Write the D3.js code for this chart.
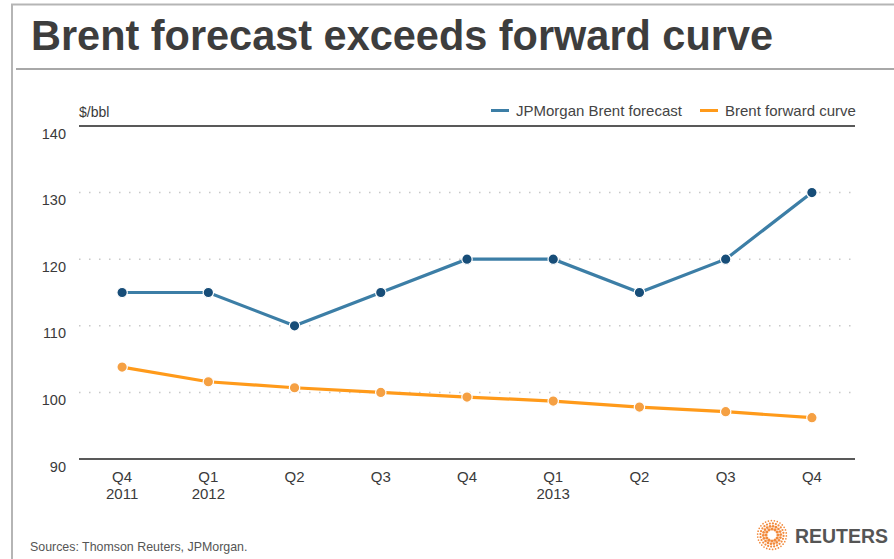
<!DOCTYPE html>
<html>
<head>
<meta charset="utf-8">
<script src="https://cdn.jsdelivr.net/npm/d3@7"></script>
<style>
  body { margin: 0; background: #fff; }
  svg { display: block; font-family: "Liberation Sans", Arial, sans-serif; }
</style>
</head>
<body>
<svg id="chart" width="894" height="559"></svg>
<script>
var quarters = ["Q4", "Q1", "Q2", "Q3", "Q4", "Q1", "Q2", "Q3", "Q4"];
var years = ["2011", "2012", "", "", "", "2013", "", "", ""];
var jpmForecast = [115, 115, 110, 115, 120, 120, 115, 120, 130];
var forwardCurve = [103.8, 101.6, 100.7, 100.0, 99.3, 98.7, 97.8, 97.1, 96.2];
var yTicks = [90, 100, 110, 120, 130, 140];

var svg = d3.select("#chart");
var margin = { left: 79, right: 855, top: 126, bottom: 459 };

// frame
svg.append("path")
    .attr("d", "M12,559 V4.5 H894")
    .attr("fill", "none")
    .attr("stroke", "#b5b5b5")
    .attr("stroke-width", 2);
svg.append("line")
    .attr("x1", 16).attr("x2", 894).attr("y1", 69).attr("y2", 69)
    .attr("stroke", "#a8a8a8").attr("stroke-width", 2);

svg.append("text")
    .attr("x", 31).attr("y", 50)
    .style("font-weight", "bold")
    .style("font-size", "42px")
    .attr("fill", "#3d3d3d")
    .attr("textLength", 742)
    .attr("lengthAdjust", "spacingAndGlyphs")
    .text("Brent forecast exceeds forward curve");

var x = d3.scalePoint()
    .domain(d3.range(quarters.length))
    .range([margin.left, margin.right])
    .padding(0.5);

var y = d3.scaleLinear()
    .domain([90, 140])
    .range([margin.bottom, margin.top]);

// grid
svg.selectAll(".grid")
    .data(yTicks.filter(function(d) { return d > 90 && d < 140; }))
    .enter().append("line")
    .attr("x1", margin.left).attr("x2", margin.right)
    .attr("y1", function(d) { return y(d); })
    .attr("y2", function(d) { return y(d); })
    .attr("stroke", "#c8c8c8")
    .attr("stroke-width", 1.5)
    .attr("stroke-dasharray", "1.5,8.5");

svg.selectAll(".edge")
    .data([90, 140])
    .enter().append("line")
    .attr("x1", margin.left).attr("x2", margin.right)
    .attr("y1", function(d) { return y(d); })
    .attr("y2", function(d) { return y(d); })
    .attr("stroke", "#222")
    .attr("stroke-width", 1.6);

// y labels
svg.selectAll(".ylab")
    .data(yTicks)
    .enter().append("text")
    .attr("x", 66)
    .attr("y", function(d) { return y(d) + 12.5; })
    .attr("text-anchor", "end")
    .style("font-size", "14.5px")
    .attr("fill", "#3a3a3a")
    .text(function(d) { return d; });

svg.append("text")
    .attr("x", 79).attr("y", 117)
    .style("font-size", "14px")
    .attr("fill", "#3a3a3a")
    .text("$/bbl");

// x labels
svg.selectAll(".xlab")
    .data(quarters)
    .enter().append("text")
    .attr("x", function(d, i) { return x(i); })
    .attr("y", 482)
    .attr("text-anchor", "middle")
    .style("font-size", "15px")
    .attr("fill", "#3a3a3a")
    .text(function(d) { return d; });
svg.selectAll(".yrlab")
    .data(years)
    .enter().append("text")
    .attr("x", function(d, i) { return x(i); })
    .attr("y", 499)
    .attr("text-anchor", "middle")
    .style("font-size", "15px")
    .attr("fill", "#3a3a3a")
    .text(function(d) { return d; });

var line = d3.line()
    .x(function(d, i) { return x(i); })
    .y(function(d) { return y(d); });

var series = [
  { name: "JPMorgan Brent forecast", values: jpmForecast, line: "#3c7ea6", dot: "#174d78" },
  { name: "Brent forward curve", values: forwardCurve, line: "#ff9a1a", dot: "#f5a043" }
];

series.forEach(function(s) {
  svg.append("path")
      .attr("d", line(s.values))
      .attr("fill", "none")
      .attr("stroke", s.line)
      .attr("stroke-width", 3.2);
  svg.selectAll(null)
      .data(s.values)
      .enter().append("circle")
      .attr("cx", function(d, i) { return x(i); })
      .attr("cy", function(d) { return y(d); })
      .attr("r", 5.2)
      .attr("fill", s.dot)
      .attr("stroke", "#fff")
      .attr("stroke-width", 1.2);
});

// legend
var legendX = [491, 700];
series.forEach(function(s, i) {
  svg.append("line")
      .attr("x1", legendX[i]).attr("x2", legendX[i] + 18)
      .attr("y1", 110.5).attr("y2", 110.5)
      .attr("stroke", s.line).attr("stroke-width", 3);
  svg.append("text")
      .attr("x", legendX[i] + 25).attr("y", 116)
      .style("font-size", "15px")
      .attr("fill", "#444")
      .text(s.name);
});

svg.append("text")
    .attr("x", 30).attr("y", 551)
    .style("font-size", "12.4px")
    .attr("fill", "#555")
    .text("Sources: Thomson Reuters, JPMorgan.");

// reuters logo
var logo = svg.append("g").attr("transform", "translate(772,535)");
d3.range(4).forEach(function(r) {
  var rad = 6 + r * 2.8;
  var n = 12 + r * 6;
  d3.range(n).forEach(function(k) {
    var a = k / n * 2 * Math.PI + r * 0.3;
    logo.append("circle")
        .attr("cx", Math.cos(a) * rad)
        .attr("cy", Math.sin(a) * rad)
        .attr("r", 1.6 - r * 0.25)
        .attr("fill", "#f28a3c");
  });
});
svg.append("text")
    .attr("x", 795).attr("y", 543)
    .style("font-size", "21px")
    .style("font-weight", "bold")
    .attr("fill", "#555")
    .attr("textLength", 93)
    .attr("lengthAdjust", "spacingAndGlyphs")
    .text("REUTERS");
</script>
</body>
</html>
